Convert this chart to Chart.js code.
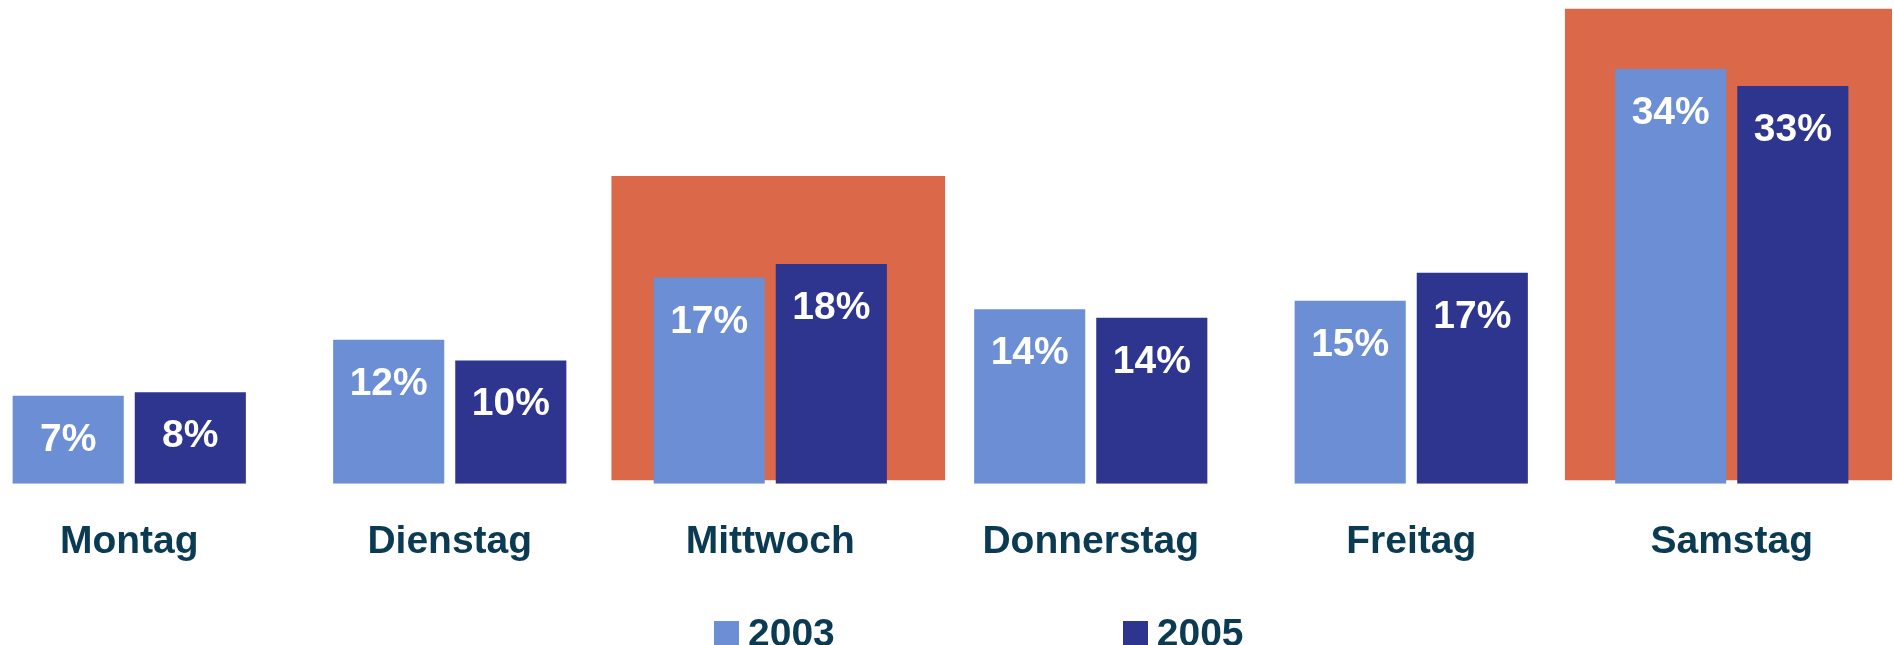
<!DOCTYPE html>
<html>
<head>
<meta charset="utf-8">
<script src="https://cdn.jsdelivr.net/npm/chart.js@4.4.1/dist/chart.umd.min.js"></script>
<style>
    html, body { margin: 0; padding: 0; background: #ffffff; overflow: hidden; }
    body { width: 1894px; height: 645px; position: relative; }
    .wrap { position: absolute; left: -31px; top: 0; width: 1923px; height: 645px; }
    #legend { position: absolute; left: 714px; top: 613px; display: flex; gap: 288px; font-family: "Liberation Sans", Arial, sans-serif; font-weight: bold; font-size: 39px; line-height: 39px; color: #0b3a53; }
    #legend .item { display: flex; align-items: flex-start; }
    #legend .box { width: 25px; height: 25px; margin-top: 8px; margin-right: 9px; }
</style>
</head>
<body>
<!-- hinten: orange Hervorhebung, vorne: Balken -->
<div class="wrap"><canvas id="back"></canvas></div>
<div class="wrap"><canvas id="chart"></canvas></div>
<div id="legend"></div>
<script>
// Wochentage
const days = ['Montag', 'Dienstag', 'Mittwoch', 'Donnerstag', 'Freitag', 'Samstag'];

// Anteile in % (Balkenhöhen aus dem Bild gelesen)
const share2003 = [7.2, 11.8, 16.9, 14.3, 15.0, 34.0];
const share2005 = [7.5, 10.1, 18.0, 13.6, 17.3, 32.6];

// orange Hervorhebung hinter Mittwoch und Samstag (Position auf der Tagesachse, von, bis)
const highlightAt = [2.025, 5];
const highlightFrom = [0.3, 0.3];
const highlightTo = [25.2, 38.9];

const years = ['2003', '2005'];
const colors = ['#6b8ed4', '#2e358f'];
const orange = '#da6849';
const textColor = '#0b3a53';
const fontFamily = "'Liberation Sans', Arial, sans-serif";
const yMax = 39.65;

const highlight = highlightAt.map((x, i) => ({ x: x, y: [highlightFrom[i], highlightTo[i]] }));

// Prozentwerte in die Balken schreiben
const valueLabels = {
    id: 'valueLabels',
    afterDatasetsDraw(chart) {
        const ctx = chart.ctx;
        ctx.save();
        ctx.fillStyle = '#ffffff';
        ctx.font = 'bold 39px ' + fontFamily;
        ctx.textAlign = 'center';
        ctx.textBaseline = 'alphabetic';
        chart.data.datasets.forEach((ds, i) => {
            chart.getDatasetMeta(i).data.forEach((bar, j) => {
                ctx.fillText(Math.round(ds.data[j]) + '%', bar.x, bar.y + 55);
            });
        });
        ctx.restore();
    }
};

// Hintergrund-Diagramm mit gleicher Zeichenfläche
new Chart(document.getElementById('back'), {
    type: 'bar',
    data: {
        datasets: [{ data: highlight, backgroundColor: orange, barThickness: 333, clip: false }]
    },
    options: {
        responsive: true,
        maintainAspectRatio: false,
        animation: false,
        layout: { padding: { left: 0, right: 0, top: 0, bottom: 161.3 } },
        plugins: { legend: { display: false }, tooltip: { enabled: false } },
        scales: {
            x: { type: 'linear', display: false, offset: false, min: -0.5, max: 5.5 },
            y: { display: false, min: 0, max: yMax }
        }
    }
});

new Chart(document.getElementById('chart'), {
    type: 'bar',
    data: {
        labels: days,
        datasets: [
            { label: years[0], data: share2003, backgroundColor: colors[0],
              categoryPercentage: 0.762, barPercentage: 0.91 },
            { label: years[1], data: share2005, backgroundColor: colors[1],
              categoryPercentage: 0.762, barPercentage: 0.91 }
        ]
    },
    options: {
        responsive: true,
        maintainAspectRatio: false,
        animation: false,
        layout: { padding: { left: 0, right: 0, top: 0, bottom: 61.3 } },
        plugins: {
            legend: { display: false },
            tooltip: { enabled: false }
        },
        scales: {
            x: {
                grid: { display: false },
                border: { display: false },
                afterFit: (scale) => { scale.height = 100; },
                ticks: {
                    color: textColor,
                    padding: 27,
                    font: { family: fontFamily, size: 39, weight: 'bold' }
                }
            },
            y: {
                display: false,
                min: 0,
                max: yMax
            }
        }
    },
    plugins: [valueLabels]
});

// Legende unter dem Diagramm
const legend = document.getElementById('legend');
legend.innerHTML = years.map((y, i) => `
    <div class="item"><div class="box" style="background:${colors[i]}"></div><span>${y}</span></div>
`).join('');
</script>
</body>
</html>
